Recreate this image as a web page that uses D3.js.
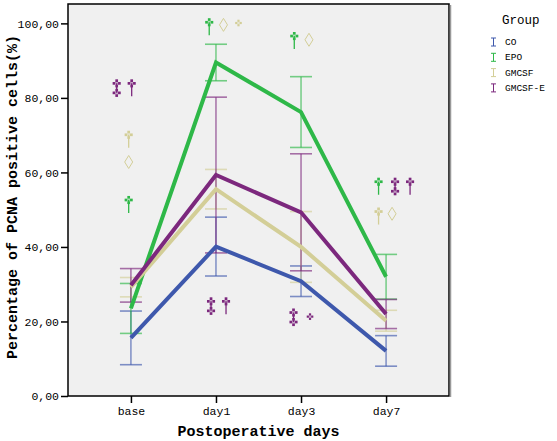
<!DOCTYPE html>
<html><head><meta charset="utf-8">
<script src="https://cdn.jsdelivr.net/npm/d3@7"></script>
<style>body{margin:0;background:#fff}svg{display:block}</style>
</head><body><svg id="c" width="557" height="441"></svg>
<script>
const days = ["base","day1","day3","day7"];
const groups = ["CO","EPO","GMCSF","GMCSF-E"];
const colors = ["#3E58AC","#2EB848","#D3CE97","#7C287D"];
const meanCO = [15.6, 40.1, 30.8, 12.1];
const meanEPO = [23.5, 89.5, 76.2, 32.0];
const meanGMCSF = [29.2, 55.5, 40.0, 20.2];
const meanGMCSFE = [29.7, 59.3, 49.3, 22.0];
const errCO = [7.2, 7.9, 4.1, 4.1];
const errEPO = [6.7, 4.9, 9.5, 6.0];
const errGMCSF = [2.6, 5.3, 9.5, 2.8];
const errGMCSFE = [4.5, 20.9, 15.7, 3.9];
const yTicks = [0, 20, 40, 60, 80, 100];
// significance markers: day, group index, kind, value, column offset
const markers = [
  {day:"base", g:3, kind:"double", v:83.9, col:-0.95},
  {day:"base", g:3, kind:"single", v:83.9, col:0.05},
  {day:"base", g:2, kind:"single", v:70.1, col:-0.15},
  {day:"base", g:2, kind:"diamond", v:62.8, col:-0.15},
  {day:"base", g:1, kind:"single", v:52.6, col:-0.15},
  {day:"day1", g:1, kind:"single", v:100.3, col:-0.45},
  {day:"day1", g:2, kind:"diamond", v:99.6, col:0.5},
  {day:"day1", g:2, kind:"small", v:100.1, col:1.5},
  {day:"day1", g:3, kind:"double", v:25.4, col:-0.33},
  {day:"day1", g:3, kind:"single", v:25.4, col:0.67},
  {day:"day3", g:1, kind:"single", v:96.6, col:-0.45},
  {day:"day3", g:2, kind:"diamond", v:95.6, col:0.53},
  {day:"day3", g:3, kind:"double", v:22.4, col:-0.5},
  {day:"day3", g:3, kind:"small", v:21.3, col:0.6},
  {day:"day7", g:1, kind:"single", v:57.5, col:-0.5},
  {day:"day7", g:3, kind:"double", v:57.5, col:0.6},
  {day:"day7", g:3, kind:"single", v:57.5, col:1.6},
  {day:"day7", g:2, kind:"single", v:49.5, col:-0.5},
  {day:"day7", g:2, kind:"diamond", v:48.9, col:0.4}
];

const means = [meanCO, meanEPO, meanGMCSF, meanGMCSFE];
const errs = [errCO, errEPO, errGMCSF, errGMCSFE];
const svg = d3.select("#c");
const L = 68, R = 449, T = 4, B = 396;
const x = d3.scalePoint().domain(days).range([L, R]).padding(0.74);
const y = d3.scaleLinear().domain([0, 105.2]).range([B, T]);
const mono = "'Liberation Mono','Courier New',monospace";

svg.append("rect").attr("x", L).attr("y", T).attr("width", R - L).attr("height", B - T).attr("fill", "#F0F0F0");

// error bars
groups.forEach((gname, gi) => {
  const g = svg.append("g");
  days.forEach((d, di) => {
    const m = means[gi][di], e = errs[gi][di];
    const cx = x(d);
    g.append("line").attr("x1", cx).attr("x2", cx).attr("y1", y(m - e)).attr("y2", y(m + e))
      .attr("stroke", colors[gi]).attr("stroke-width", 1.2).attr("stroke-opacity", 0.8);
    [m - e, m + e].forEach(v => {
      g.append("line").attr("x1", cx - 11).attr("x2", cx + 11).attr("y1", y(v)).attr("y2", y(v))
        .attr("stroke", colors[gi]).attr("stroke-width", 1.6).attr("stroke-opacity", 0.65);
    });
  });
});

// lines
const line = d3.line().x((v, i) => x(days[i])).y(v => y(v));
groups.forEach((gname, gi) => {
  svg.append("path").attr("d", line(means[gi])).attr("fill", "none")
    .attr("stroke", colors[gi]).attr("stroke-width", 4).attr("stroke-linejoin", "miter");
});

// markers
function flower(g, cx, cy, c, s) {
  [[0,-1],[-1,0],[1,0],[0,1]].forEach(([a,b]) => {
    g.append("rect").attr("x", cx + a*s - s/2).attr("y", cy + b*s - s/2).attr("width", s).attr("height", s).attr("fill", c);
  });
  g.append("rect").attr("x", cx - s/2).attr("y", cy - s/2).attr("width", s).attr("height", s).attr("fill", c).attr("fill-opacity", 0.35);
}
markers.forEach(mk => {
  const c = colors[mk.g];
  const cx = x(mk.day) + mk.col * 15;
  const cy = y(mk.v);
  const g = svg.append("g");
  const s = 2.7;
  if (mk.kind === "single") {
    g.append("line").attr("x1", cx).attr("x2", cx).attr("y1", cy).attr("y2", cy + 13).attr("stroke", c).attr("stroke-width", 1.3);
    flower(g, cx, cy, c, s);
  } else if (mk.kind === "double") {
    g.append("line").attr("x1", cx).attr("x2", cx).attr("y1", cy).attr("y2", cy + 9.5).attr("stroke", c).attr("stroke-width", 1.3);
    flower(g, cx, cy, c, s);
    flower(g, cx, cy + 9.5, c, s);
  } else if (mk.kind === "small") {
    flower(g, cx, cy, c, 2.2);
  } else {
    g.append("path").attr("d", `M${cx},${cy-6.5}L${cx+4},${cy}L${cx},${cy+6.5}L${cx-4},${cy}Z`)
      .attr("fill", "none").attr("stroke", c).attr("stroke-width", 1);
  }
});

// frame
svg.append("rect").attr("x", L).attr("y", T).attr("width", R - L).attr("height", B - T)
  .attr("fill", "none").attr("stroke", "#000").attr("stroke-width", 1.5);
svg.append("line").attr("x1", R + 1.5).attr("x2", R + 1.5).attr("y1", T + 1).attr("y2", B + 1).attr("stroke", "#999").attr("stroke-width", 1.5);

// axes
const fmt = v => d3.format(".2f")(v).replace(".", ",");
const ya = svg.append("g").attr("transform", `translate(${L},0)`)
  .call(d3.axisLeft(y).tickValues(yTicks).tickFormat(fmt).tickSize(7).tickPadding(2));
ya.select(".domain").remove();
ya.selectAll("line").attr("stroke", "#000").attr("stroke-width", 1.5);
ya.selectAll("text").attr("font-family", mono).attr("font-size", 11.5).attr("fill", "#000");

const xa = svg.append("g").attr("transform", `translate(0,${B})`)
  .call(d3.axisBottom(x).tickSize(7).tickPadding(4));
xa.select(".domain").remove();
xa.selectAll("line").attr("stroke", "#000").attr("stroke-width", 1.5);
xa.selectAll("text").attr("font-family", mono).attr("font-size", 11.5).attr("fill", "#000");

svg.append("text").attr("x", (L + R) / 2).attr("y", 436).attr("text-anchor", "middle")
  .attr("font-family", mono).attr("font-weight", "bold").attr("font-size", 15).text("Postoperative days");
svg.append("text").attr("transform", `translate(17,${(T + B) / 2 - 3}) rotate(-90)`).attr("text-anchor", "middle")
  .attr("font-family", mono).attr("font-weight", "bold").attr("font-size", 15).text("Percentage of PCNA positive cells(%)");

// legend
const lg = svg.append("g");
lg.append("text").attr("x", 502).attr("y", 24).attr("font-family", mono).attr("font-size", 12.5).text("Group");
groups.forEach((gname, gi) => {
  const cy = 42 + gi * 15.3;
  lg.append("path").attr("d", `M${491},${cy-4}H${496}M${493.5},${cy-4}V${cy+4}M${491},${cy+4}H${496}`)
    .attr("stroke", colors[gi]).attr("stroke-width", 1).attr("fill", "none");
  lg.append("text").attr("x", 505).attr("y", cy + 3).attr("font-family", mono).attr("font-size", 9.5).text(gname);
});
</script></body></html>
